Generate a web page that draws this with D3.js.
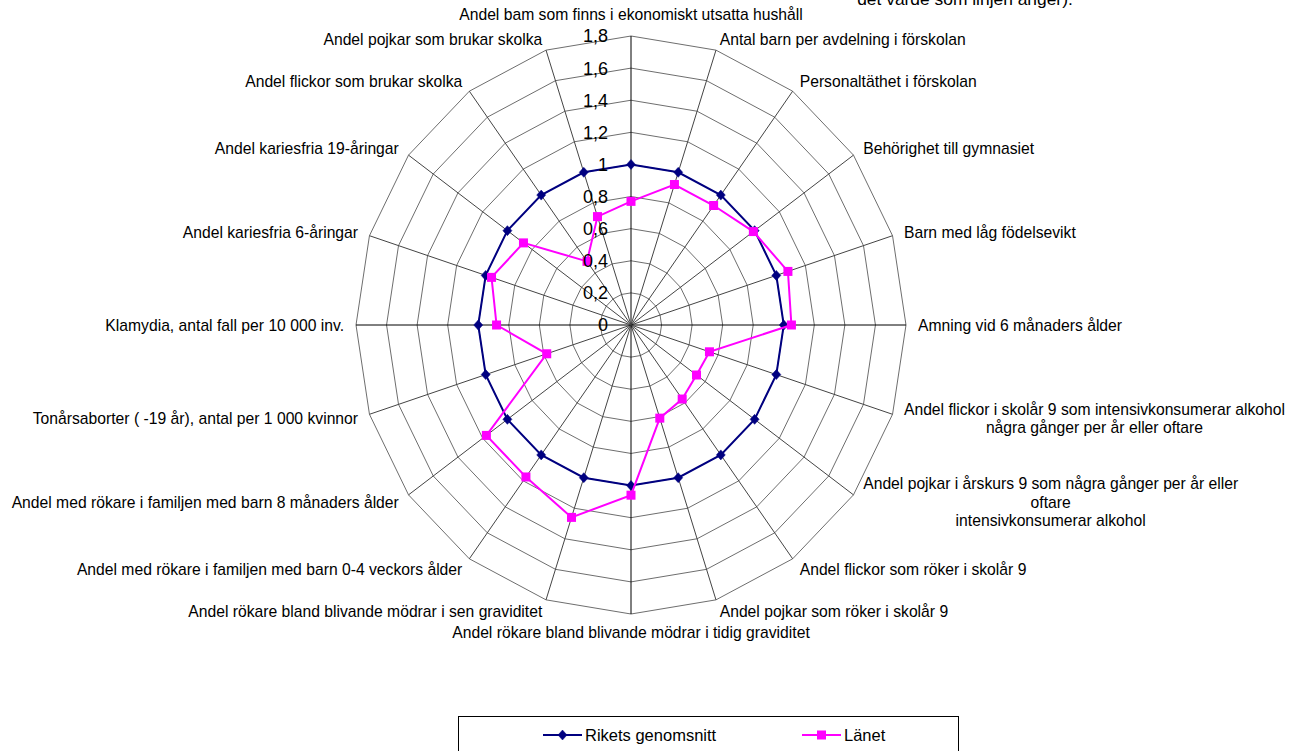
<!DOCTYPE html>
<html>
<head>
<meta charset="utf-8">
<script src="https://cdn.jsdelivr.net/npm/d3@7"></script>
<style>
  html, body { margin: 0; padding: 0; background: #fff; }
  svg { display: block; font-family: "Liberation Sans", Arial, sans-serif; }
</style>
</head>
<body>
<svg id="chart" width="1289" height="751"></svg>
<script>
const categories = [
  "Andel bam som finns i ekonomiskt utsatta hushåll",
  "Antal barn per avdelning i förskolan",
  "Personaltäthet i förskolan",
  "Behörighet till gymnasiet",
  "Barn med låg födelsevikt",
  "Amning vid 6 månaders ålder",
  "Andel flickor i skolår 9 som intensivkonsumerar alkohol\nnågra gånger per år eller oftare",
  "Andel pojkar i årskurs 9 som några gånger per år eller\noftare\nintensivkonsumerar alkohol",
  "Andel flickor som röker i skolår 9",
  "Andel pojkar som röker i skolår 9",
  "Andel rökare bland blivande mödrar i tidig graviditet",
  "Andel rökare bland blivande mödrar i sen graviditet",
  "Andel med rökare i familjen med barn 0-4 veckors ålder",
  "Andel med rökare i familjen med barn 8 månaders ålder",
  "Tonårsaborter ( -19 år), antal per 1 000 kvinnor",
  "Klamydia, antal fall per 10 000 inv.",
  "Andel kariesfria 6-åringar",
  "Andel kariesfria 19-åringar",
  "Andel flickor som brukar skolka",
  "Andel pojkar som brukar skolka"
];
const riketsValues = [1, 1, 1, 1, 1, 1, 1, 1, 1, 1, 1, 1, 1, 1, 1, 1, 1, 1, 1, 1];
const lanetValues = [0.77, 0.92, 0.92, 0.99, 1.08, 1.05, 0.54, 0.53, 0.57, 0.61,
                     1.06, 1.26, 1.17, 1.17, 0.58, 0.88, 0.96, 0.87, 0.49, 0.71];
const tickValues = [0, 0.2, 0.4, 0.6, 0.8, 1, 1.2, 1.4, 1.6, 1.8];
const tickLabels = ["0", "0,2", "0,4", "0,6", "0,8", "1", "1,2", "1,4", "1,6", "1,8"];
const seriesNames = ["Rikets genomsnitt", "Länet"];
const titleText = "det värde som linjen anger).";

const svg = d3.select("#chart");
const cx = 631, cy = 325;
const maxV = 1.8;
const rX = d3.scaleLinear().domain([0, maxV]).range([0, 275]);
const rY = d3.scaleLinear().domain([0, maxV]).range([0, 289]);
const ang = d3.scaleLinear().domain([0, categories.length]).range([0, 2 * Math.PI]);

function pt(i, v) {
  const a = ang(i);
  return [cx + rX(v) * Math.sin(a), cy - rY(v) * Math.cos(a)];
}

// title fragment (clipped at top)
svg.append("text").attr("x", 965).attr("y", 5).attr("text-anchor", "middle")
  .attr("font-size", 17.4).attr("fill", "#000").text(titleText);

// grid rings
const gGrid = svg.append("g");
tickValues.filter(t => t > 0).forEach(t => {
  const pts = categories.map((c, i) => pt(i, t));
  gGrid.append("path")
    .attr("d", d3.line().curve(d3.curveLinearClosed)(pts))
    .attr("fill", "none").attr("stroke", "#6e6e6e").attr("stroke-width", 1);
});
// spokes
categories.forEach((c, i) => {
  const p = pt(i, maxV);
  const cardinal = i % 5 === 0;
  gGrid.append("line")
    .attr("x1", cx).attr("y1", cy).attr("x2", p[0]).attr("y2", p[1])
    .attr("stroke", cardinal ? "#000" : "#444").attr("stroke-width", 1);
});

// category labels
const gLab = svg.append("g").attr("font-size", 15.7).attr("fill", "#000");
categories.forEach((c, i) => {
  const a = ang(i);
  const s = Math.sin(a), co = Math.cos(a);
  const v = pt(i, maxV);
  const ax = v[0] + 12 * s, ay = v[1] - 12 * co;
  const lines = c.split("\n");
  const lh = 18.5;
  const g = gLab.append("g");
  const texts = lines.map(l => g.append("text").text(l));
  const widths = texts.map(t => t.node().getComputedTextLength());
  const maxW = d3.max(widths);
  let xc;
  if (s > 0.01) xc = ax + maxW / 2;
  else if (s < -0.01) xc = ax - maxW / 2;
  else xc = ax;
  let baseline0;
  if (Math.abs(s) < 0.01 && co > 0) baseline0 = ay - 4 - (lines.length - 1) * lh;
  else if (Math.abs(s) < 0.01 && co < 0) baseline0 = ay + 12;
  else baseline0 = ay + 6 - (lines.length - 1) * lh / 2;
  texts.forEach((t, k) => {
    t.attr("x", xc).attr("y", baseline0 + k * lh).attr("text-anchor", "middle");
  });
});

// series
const lineGen = d3.line().curve(d3.curveLinearClosed);
const navy = "#000080", pink = "#FF00FF";

function drawSeries(values, color, marker) {
  const pts = values.map((v, i) => pt(i, v));
  svg.append("path").attr("d", lineGen(pts))
    .attr("fill", "none").attr("stroke", color).attr("stroke-width", 2);
  pts.forEach(p => drawMarker(p[0], p[1], color, marker));
}
function drawMarker(x, y, color, marker) {
  if (marker === "diamond") {
    svg.append("path")
      .attr("d", `M${x},${y - 5}L${x + 4.5},${y}L${x},${y + 5}L${x - 4.5},${y}Z`)
      .attr("fill", color).attr("stroke", color).attr("stroke-width", 0.5);
  } else {
    svg.append("rect").attr("x", x - 4.5).attr("y", y - 4.5)
      .attr("width", 9).attr("height", 9).attr("fill", color);
  }
}
drawSeries(riketsValues, navy, "diamond");
drawSeries(lanetValues, pink, "square");

// tick labels
const gTick = svg.append("g").attr("font-size", 18).attr("fill", "#000");
tickValues.forEach((t, k) => {
  gTick.append("text").attr("x", cx - 23).attr("y", cy - rY(t))
    .attr("dy", "0.36em").attr("text-anchor", "end").text(tickLabels[k]);
});

// legend
const lg = svg.append("g");
lg.append("rect").attr("x", 458.5).attr("y", 716.5).attr("width", 500).attr("height", 60)
  .attr("fill", "#fff").attr("stroke", "#000").attr("stroke-width", 1);
const legendItems = [
  {name: seriesNames[0], color: navy, marker: "diamond", x: 543},
  {name: seriesNames[1], color: pink, marker: "square", x: 802}
];
legendItems.forEach(d => {
  lg.append("line").attr("x1", d.x).attr("x2", d.x + 39).attr("y1", 735).attr("y2", 735)
    .attr("stroke", d.color).attr("stroke-width", 2);
  drawMarker(d.x + 19.5, 735, d.color, d.marker);
  lg.append("text").attr("x", d.x + 42).attr("y", 735).attr("dy", "0.36em")
    .attr("font-size", 16.5).attr("fill", "#000").text(d.name);
});
</script>
</body>
</html>
